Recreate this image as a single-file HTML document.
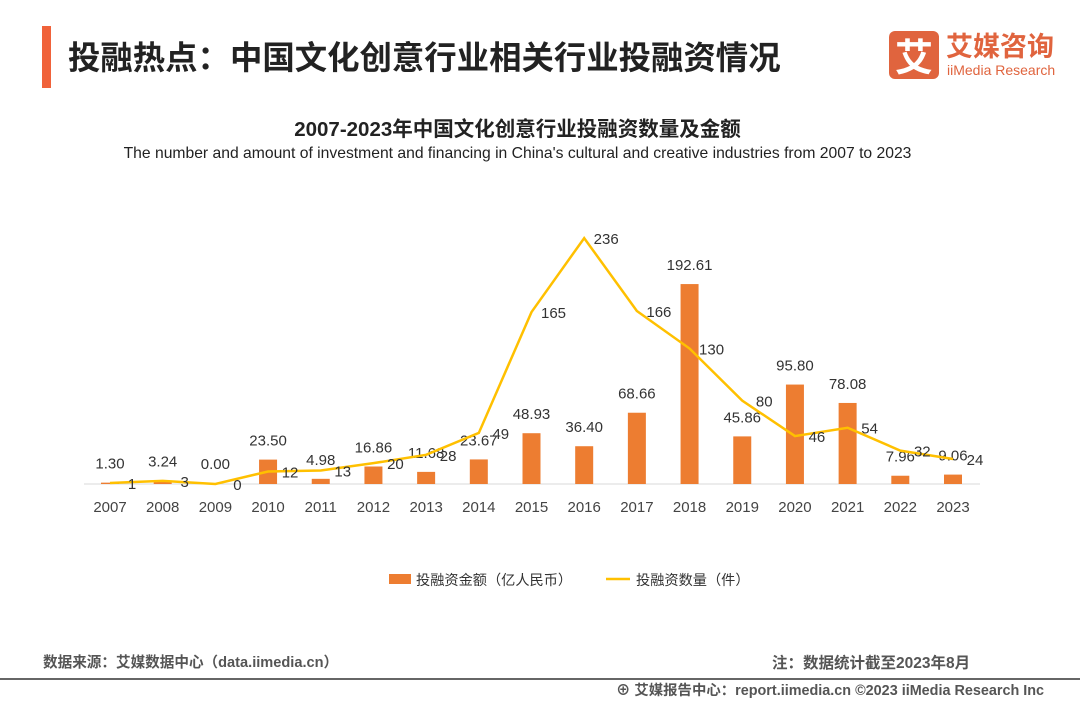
<!DOCTYPE html>
<html><head><meta charset="utf-8">
<style>
body{margin:0;width:1080px;height:702px;background:#fff;font-family:"Liberation Sans","Noto Sans CJK SC",sans-serif;position:relative;overflow:hidden}
.abs{position:absolute;white-space:nowrap}
</style></head><body>
<div class="abs" style="left:42px;top:26px;width:9px;height:62px;background:#f0623a"></div>
<div class="abs" style="left:68px;top:32px;font-size:32.4px;font-weight:bold;color:#222;font-family:'Noto Sans CJK SC',sans-serif">投融热点：中国文化创意行业相关行业投融资情况</div>
<div class="abs" style="left:889px;top:31px;width:50px;height:48px;background:#e0643e;border-radius:6px;color:#fff;font-size:38px;font-weight:bold;text-align:center;line-height:48px;font-family:'Noto Sans CJK SC',sans-serif">艾</div>
<div class="abs" style="left:946px;top:28px;font-size:27px;font-weight:bold;color:#e0643e;font-family:'Noto Sans CJK SC',sans-serif;line-height:34px">艾媒咨询</div>
<div class="abs" style="left:947px;top:62px;font-size:14px;color:#e0643e">iiMedia Research</div>
<div class="abs" style="left:0;width:1035px;text-align:center;top:112px;font-size:20.5px;font-weight:bold;color:#222">2007-2023年中国文化创意行业投融资数量及金额</div>
<div class="abs" style="left:0;width:1035px;text-align:center;top:145px;font-size:15.7px;color:#222">The number and amount of investment and financing in China's cultural and creative industries from 2007 to 2023</div>
<svg class="abs" style="left:0;top:0" width="1080" height="702" id="chart"></svg>
<div class="abs" style="left:43px;top:651px;font-size:14.6px;color:#555;font-weight:bold">数据来源：艾媒数据中心（data.iimedia.cn）</div>
<div class="abs" style="left:772px;top:651px;font-size:15.5px;color:#555;font-weight:bold">注：数据统计截至2023年8月</div>
<div class="abs" style="left:0;top:678px;width:1080px;height:2px;background:#666"></div>
<div class="abs" style="left:616px;top:679px;font-size:14.4px;color:#555;font-weight:bold">⊕ 艾媒报告中心：report.iimedia.cn ©2023 iiMedia Research Inc</div>
<script>
const years=["2007","2008","2009","2010","2011","2012","2013","2014","2015","2016","2017","2018","2019","2020","2021","2022","2023"];
const amounts=[1.30,3.24,0.00,23.50,4.98,16.86,11.68,23.67,48.93,36.40,68.66,192.61,45.86,95.80,78.08,7.96,9.06];
const counts=[1,3,0,12,13,20,28,49,165,236,166,130,80,46,54,32,24];
const NS="http://www.w3.org/2000/svg";
const svg=document.getElementById('chart');
const x0=110,step=(953-110)/16,base=484;
const xS=i=>x0+i*step;
const yA=v=>base-v*1.038;
const yC=v=>base-v*1.042;
function mk(t,a){const e=document.createElementNS(NS,t);for(const k in a)e.setAttribute(k,a[k]);svg.appendChild(e);return e;}
let ax=mk('line',{x1:84,x2:980,y1:base,y2:base,stroke:'#d9d9d9'});


amounts.forEach((v,i)=>{
 const r=mk('rect',{x:xS(i)-9,y:yA(v),width:18,height:base-yA(v),fill:'#ed7d31'});
 
 
 const t=mk('text',{x:xS(i),y:Math.min(yA(v)-14,469),'text-anchor':'middle','font-size':15,fill:'#333','font-family':'Liberation Sans, sans-serif'});
 t.textContent=v.toFixed(2);
 
 
 const yl=mk('text',{x:xS(i),y:512,'text-anchor':'middle','font-size':15,fill:'#444','font-family':'Liberation Sans, sans-serif'});
 yl.textContent=years[i];
 
 
});
const pl=mk('polyline',{points:counts.map((v,i)=>xS(i)+','+yC(v)).join(' '),fill:'none',stroke:'#ffc000','stroke-width':2.5});


counts.forEach((v,i)=>{
 const t=mk('text',{x:xS(i)+22,y:yC(v)+6,'text-anchor':'middle','font-size':15,fill:'#333','font-family':'Liberation Sans, sans-serif'});
 t.textContent=v;
 
 
});
let lr=mk('rect',{x:389,y:574,width:22,height:10,fill:'#ed7d31'});


let lt=mk('text',{x:416,y:585,'font-size':14.2,fill:'#333','font-family':'Noto Sans CJK SC, sans-serif'});lt.textContent='投融资金额（亿人民币）';


let ll=mk('line',{x1:606,x2:630,y1:579,y2:579,stroke:'#ffc000','stroke-width':2.5});


let lt2=mk('text',{x:636,y:585,'font-size':14.2,fill:'#333','font-family':'Noto Sans CJK SC, sans-serif'});lt2.textContent='投融资数量（件）';


</script>
</body></html>
